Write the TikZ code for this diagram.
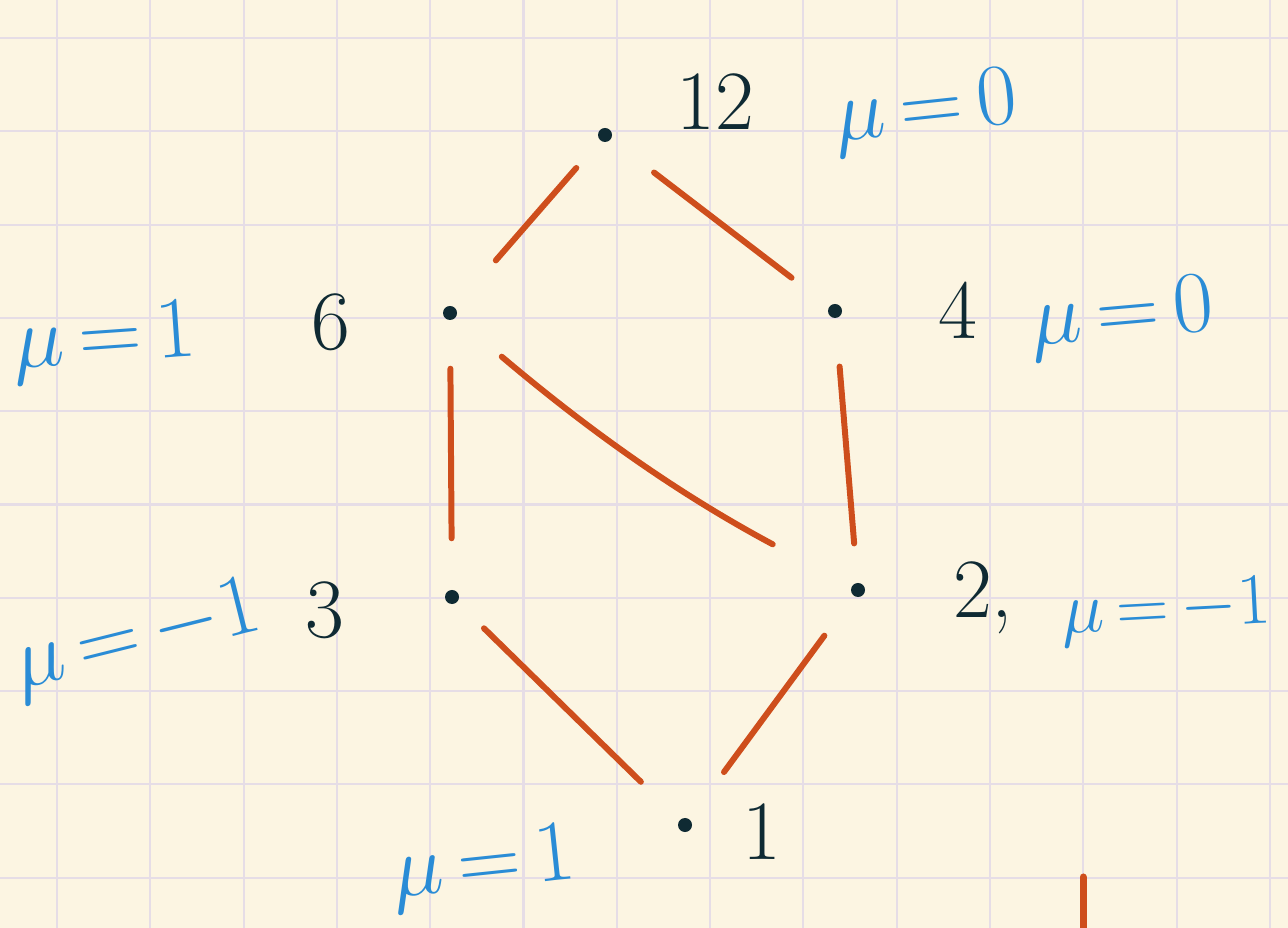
\documentclass[tikz,border=0pt]{standalone}
\definecolor{paper}{HTML}{FCF5E2}
\definecolor{gridc}{HTML}{E6DDE6}
\definecolor{ink}{HTML}{0F2A33}
\definecolor{edgec}{HTML}{CE4E1C}
\definecolor{bluec}{HTML}{2A8CD6}
\tikzset{
  dot/.style={circle,fill=ink,inner sep=0pt,minimum size=0.14cm},
  edge/.style={draw=edgec,line width=1.7pt,line cap=round},
  num/.style={text=ink,font=\fontsize{24}{26}\selectfont,inner sep=0pt},
  mulab/.style={text=bluec,font=\fontsize{23}{25}\selectfont,inner sep=0pt},
  gridline/.style={draw=gridc,line width=0.6pt}
}
\begin{document}
\begin{tikzpicture}[x=0.01cm,y=-0.01cm]
\fill[paper] (0,0) rectangle (1288,928);
\useasboundingbox (0,0) rectangle (1288,928);
\foreach \i in {0,...,13} {\draw[gridline] ({57+93.3*\i},0) -- ({57+93.3*\i},928);}
\foreach \j in {0,...,9} {\draw[gridline] (0,{38+93.3*\j}) -- (1288,{38+93.3*\j});}
% dots
\node[dot] (n12) at (605,135) {};
\node[dot] (n6) at (450,313) {};
\node[dot] (n4) at (835,311) {};
\node[dot] (n3) at (452,597) {};
\node[dot] (n2) at (858,590) {};
\node[dot] (n1) at (685,825) {};
% edges
\draw[edge,shorten <=0.36cm,shorten >=0.62cm] (n12) -- (n6);
\draw[edge,shorten <=0.54cm,shorten >=0.47cm] (n12) -- (n4);
\draw[edge,shorten <=0.48cm,shorten >=0.51cm] (n6) -- (n3);
\draw[edge,shorten <=0.60cm,shorten >=0.89cm] (n6) to[bend right=6] (n2);
\draw[edge,shorten <=0.48cm,shorten >=0.39cm] (n4) -- (n2);
\draw[edge,shorten <=0.37cm,shorten >=0.54cm] (n3) -- (n1);
\draw[edge,shorten <=0.49cm,shorten >=0.58cm] (n2) -- (n1);
% stray stroke
\coordinate (s1) at (1083,877);
\coordinate (s2) at (1083,930);
\draw[edge,line width=2pt] (s1) -- (s2);
% numbers
\node[num] (t12) at (715,102) {12};
\node[num] (t6) at (331,322) {6};
\node[num] (t4) at (958,310) {4};
\node[num] (t3) at (325,610) {3};
\node[num] (t2) at (983,598) {2,};
\node[num] (t1) at (762,832) {1};
% mobius values
\node[mulab,rotate=6] (m12) at (926,112) {$\mu\,{=}\,0$};
\node[mulab,rotate=4] (m6) at (105,342) {$\mu\,{=}\,1$};
\node[mulab,rotate=5] (m4) at (1122,318) {$\mu\,{=}\,0$};
\node[mulab,rotate=14] (m3) at (137,640) {$\mu\,{=}\,{-}1$};
\node[mulab,rotate=3,font=\fontsize{21}{23}\selectfont] (m2) at (1166,612) {$\mu\,{=}\,{-}1$};
\node[mulab,rotate=6] (m1) at (484,868) {$\mu\,{=}\,1$};
\end{tikzpicture}
\end{document}
